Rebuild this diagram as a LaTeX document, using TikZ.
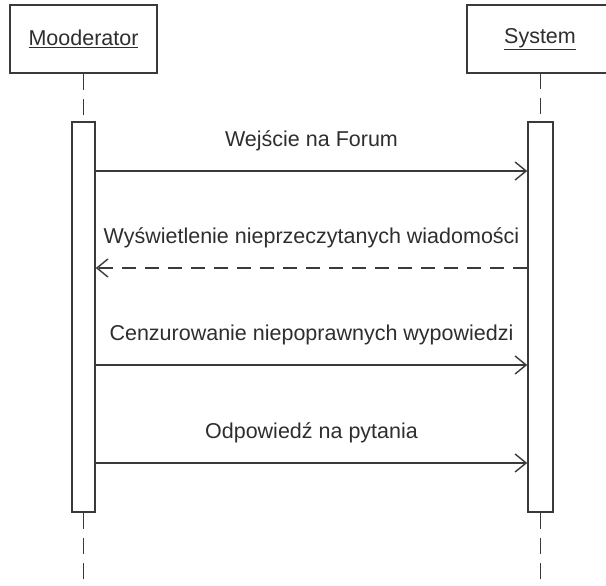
\documentclass[tikz,border=0pt]{standalone}
\usepackage{fontspec}
\setmainfont{Liberation Sans}
\usetikzlibrary{arrows.meta}
\definecolor{ink}{HTML}{3A3A3A}
\definecolor{txt}{HTML}{2E2E2E}
\begin{document}
\begin{tikzpicture}[x=1pt,y=-1pt,
  every node/.style={font=\fontsize{21.5}{25}\selectfont, text=txt},
  objbox/.style={draw=ink, line width=1.6pt, fill=white, minimum height=68pt, inner sep=0pt},
  edge/.style={draw=ink, line width=1.6pt},
  actbox/.style={draw=ink, line width=1.6pt, fill=white, minimum height=390pt, inner sep=0pt},
  lifeline/.style={draw=ink, line width=1.8pt, dash pattern=on 16pt off 9pt},
  callmsg/.style={draw=ink, line width=1.4pt, -{Straight Barb[length=11pt,width=18pt,line width=1.4pt]}},
  replymsg/.style={callmsg, dash pattern=on 14pt off 9pt},
  msglabel/.style={midway, yshift=30pt, inner sep=0pt}]
\useasboundingbox (0,0) rectangle (606,586);

% objects (the System box is open on the right: it runs past the page edge)
\node[objbox, minimum width=147pt] (mod) at (83.5,39) {\underline{Mooderator}};
\node[minimum width=146pt, minimum height=68pt, inner sep=0pt] (sys) at (540,39) {\underline{System}};
\draw[edge] (sys.north east) ++(10,0) -- (sys.north west) -- (sys.south west) -- ([xshift=10pt]sys.south east);

% lifelines
\coordinate (modEnd) at (83.5,590);
\coordinate (sysEnd) at (540.5,590);
\node[actbox, minimum width=23pt] (actM) at (83.5,317) {};
\node[actbox, minimum width=25pt] (actS) at (540.5,317) {};
\draw[lifeline] (mod.south) -- (actM.north);
\draw[lifeline] (actM.south) -- (modEnd);
\draw[lifeline] (sys.south -| actS.north) -- (actS.north);
\draw[lifeline] (actS.south) -- (sysEnd);

% messages
\coordinate (m1) at (0,171);
\coordinate (m2) at (0,268);
\coordinate (m3) at (0,365);
\coordinate (m4) at (0,463);
\draw[callmsg] (actM.east |- m1) -- (actS.west |- m1)
  node[msglabel] (l1) {Wejście na Forum};
\draw[replymsg] (actS.west |- m2) -- (actM.east |- m2)
  node[msglabel] (l2) {Wyświetlenie nieprzeczytanych wiadomości};
\draw[callmsg] (actM.east |- m3) -- (actS.west |- m3)
  node[msglabel] (l3) {Cenzurowanie niepoprawnych wypowiedzi};
\draw[callmsg] (actM.east |- m4) -- (actS.west |- m4)
  node[msglabel] (l4) {Odpowiedź na pytania};
\end{tikzpicture}
\end{document}
